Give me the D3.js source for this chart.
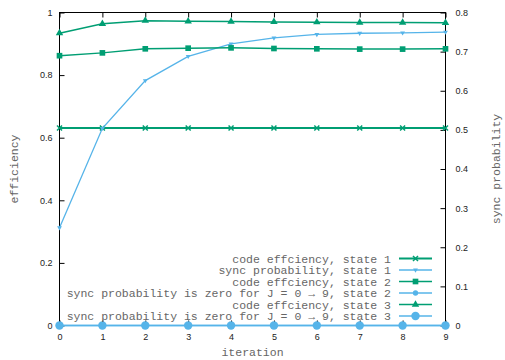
<!DOCTYPE html>
<html>
<head>
<meta charset="utf-8">
<script src="https://cdn.jsdelivr.net/npm/d3@7"></script>
<style>
  body { margin: 0; background: #fff; }
  .tick text { font-family: "Liberation Sans", Arial, sans-serif; font-size: 9px; fill: #222; }
  .tick line { stroke: #000; }
  .lbl { font-family: "Liberation Mono", "DejaVu Sans Mono", monospace; font-size: 11.5px; fill: #666; }
</style>
</head>
<body>
<script>
// values
const iterations = [0, 1, 2, 3, 4, 5, 6, 7, 8, 9];
const codeEff1 = [0.631, 0.631, 0.631, 0.631, 0.631, 0.631, 0.631, 0.631, 0.631, 0.631];
const syncProb1 = [0.25, 0.504, 0.626, 0.688, 0.72, 0.735, 0.744, 0.747, 0.748, 0.75];
const codeEff2 = [0.862, 0.871, 0.884, 0.886, 0.887, 0.885, 0.884, 0.883, 0.883, 0.884];
const syncProb2 = [0, 0, 0, 0, 0, 0, 0, 0, 0, 0];
const codeEff3 = [0.934, 0.964, 0.974, 0.972, 0.971, 0.970, 0.969, 0.968, 0.968, 0.967];
const syncProb3 = [0, 0, 0, 0, 0, 0, 0, 0, 0, 0];

const yTicks = [0, 0.2, 0.4, 0.6, 0.8, 1];
const y2Ticks = [0, 0.1, 0.2, 0.3, 0.4, 0.5, 0.6, 0.7, 0.8];
const legendLabels = [
  "code effciency, state 1",
  "sync probability, state 1",
  "code effciency, state 2",
  "sync probability is zero for J = 0 \u2192 9, state 2",
  "code effciency, state 3",
  "sync probability is zero for J = 0 \u2192 9, state 3"
];

const W = 505, H = 360;
const plot = {left: 59.5, right: 445.5, top: 12.5, bottom: 325.5};
const green = "#009e73", blue = "#56b4e9";

let x = d3.scaleLinear().domain([0, 9]).range([plot.left, plot.right]);
let y = d3.scaleLinear().domain([0, 1]).range([plot.bottom, plot.top]);
let y2 = d3.scaleLinear().domain([0, 0.8]).range([plot.bottom, plot.top]);

const svg = d3.select("body").append("svg")
  .attr("width", W)
  .attr("height", H);

// axes, ticks point inward
svg.append("g")
  .attr("transform", "translate(" + plot.left + ",0)")
  .call(d3.axisLeft(y).tickValues(yTicks).tickSize(-5).tickPadding(7).tickFormat(d3.format("~g")))
  .call(g => g.select(".domain").remove());

svg.append("g")
  .attr("transform", "translate(" + plot.right + ",0)")
  .call(d3.axisRight(y2).tickValues(y2Ticks).tickSize(-5).tickPadding(10).tickFormat(d3.format("~g")))
  .call(g => g.select(".domain").remove());

svg.append("g")
  .attr("transform", "translate(0," + plot.bottom + ")")
  .call(d3.axisBottom(x).tickValues(iterations).tickSize(-5).tickPadding(8).tickFormat(d3.format("d")))
  .call(g => g.select(".domain").remove());

svg.append("g")
  .attr("transform", "translate(0," + plot.top + ")")
  .call(d3.axisTop(x).tickValues(iterations).tickSize(-5).tickFormat(""))
  .call(g => g.select(".domain").remove());

// border
svg.append("rect")
  .attr("x", plot.left).attr("y", plot.top)
  .attr("width", plot.right - plot.left).attr("height", plot.bottom - plot.top)
  .attr("fill", "none").attr("stroke", "#000").attr("stroke-width", 1);

// axis titles
svg.append("text").attr("class", "lbl")
  .attr("transform", "translate(14,169) rotate(-90)")
  .attr("text-anchor", "middle").attr("dy", "0.35em")
  .text("efficiency");
svg.append("text").attr("class", "lbl")
  .attr("transform", "translate(496,169) rotate(-90)")
  .attr("text-anchor", "middle").attr("dy", "0.35em")
  .text("sync probability");
svg.append("text").attr("class", "lbl")
  .attr("x", (plot.left + plot.right) / 2).attr("y", 356)
  .attr("text-anchor", "middle")
  .text("iteration");

// marker shapes
function crossPath(s) {
  return "M" + (-s) + "," + (-s) + "L" + s + "," + s + "M" + (-s) + "," + s + "L" + s + "," + (-s);
}
const series = [
  {vals: codeEff1, scale: y, color: green, width: 1.8, marker: crossPath(2.5), stroke: true},
  {vals: syncProb1, scale: y2, color: blue, width: 1.3, marker: d3.symbol(d3.symbolTriangle, 10)(), rot: 180},
  {vals: codeEff2, scale: y, color: green, width: 1.5, marker: d3.symbol(d3.symbolSquare, 32)()},
  {vals: syncProb2, scale: y2, color: blue, width: 1.3, marker: d3.symbol(d3.symbolCircle, 22)()},
  {vals: codeEff3, scale: y, color: green, width: 1.5, marker: d3.symbol(d3.symbolTriangle, 24)()},
  {vals: syncProb3, scale: y2, color: blue, width: 1.3, marker: d3.symbol(d3.symbolCircle, 56)()}
];

function drawMarker(g, s, cx, cy) {
  let m = g.append("path")
    .attr("d", s.marker)
    .attr("transform", "translate(" + cx + "," + cy + ")" + (s.rot ? " rotate(" + s.rot + ")" : ""));
  if (s.stroke) m.attr("fill", "none").attr("stroke", s.color).attr("stroke-width", 1.5);
  else m.attr("fill", s.color);
}

series.forEach(function(s, i) {
  let line = d3.line()
    .x((d, j) => x(iterations[j]))
    .y(d => s.scale(d));

  svg.append("path")
    .datum(s.vals)
    .attr("d", line)
    .attr("fill", "none")
    .attr("stroke", s.color)
    .attr("stroke-width", s.width);

  let g = svg.append("g");
  s.vals.forEach(function(v, j) { drawMarker(g, s, x(iterations[j]), s.scale(v)); });

  // legend entry
  let ly = 258.5 + i * 11.5;
  svg.append("text").attr("class", "lbl")
    .attr("x", 391).attr("y", ly).attr("dy", "0.35em")
    .attr("text-anchor", "end")
    .text(legendLabels[i]);
  svg.append("line")
    .attr("x1", 399).attr("x2", 432)
    .attr("y1", ly).attr("y2", ly)
    .attr("stroke", s.color).attr("stroke-width", s.width);
  drawMarker(svg, s, 415.5, ly);
});
</script>
</body>
</html>
